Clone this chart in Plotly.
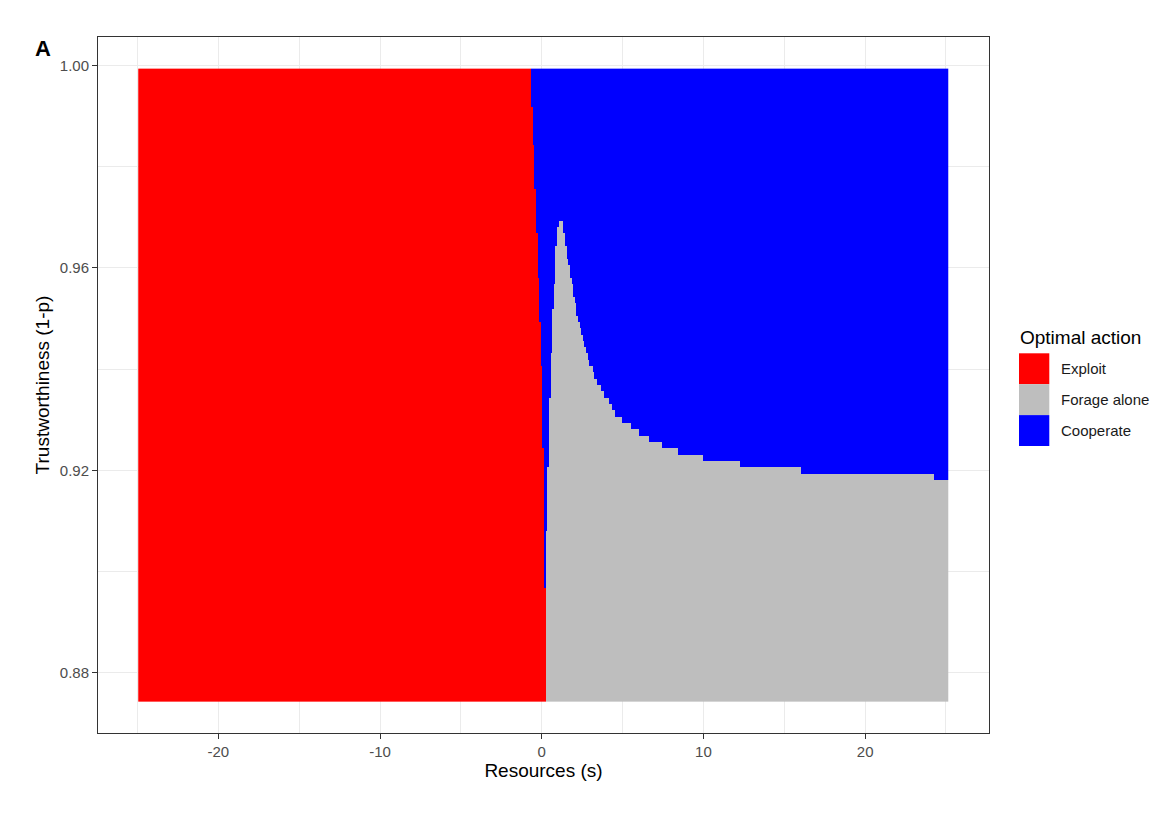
import numpy as np
import plotly.graph_objects as go

# model grid: resources s (columns) and trustworthiness 1-p (rows)
s_grid = np.round(np.arange(-249, 252) / 10, 1)             # -24.9 ... 25.1
trust_grid = np.round(0.875 + 0.00125 * np.arange(100), 5)   # 0.875 ... 0.99875
row_step = 0.00125

actions = ["Exploit", "Forage alone", "Cooperate"]
action_colors = ["#FF0000", "#BEBEBE", "#0000FF"]

# last s that is still "Exploit", for rows with trust >= value
exploit_from_trust = [0.875, 0.8975, 0.925, 0.94125, 0.95, 0.95875, 0.9675, 0.97625, 0.985, 0.9925]
exploit_edge_s = [0.2, 0.1, 0.0, -0.1, -0.2, -0.3, -0.4, -0.5, -0.6, -0.7]

# first s of "Forage alone", for rows with trust >= value (nothing above the peak)
forage_from_trust = [0.875, 0.90875, 0.92125, 0.935, 0.94375, 0.9525, 0.9575, 0.965, 0.96875]
forage_left_s = [0.3, 0.4, 0.5, 0.6, 0.7, 0.8, 0.9, 1.0, 1.1]
forage_peak_trust = 0.96875

# last s of "Forage alone", row by row from trust 0.91875 up to the peak;
# rows below that forage up to the end of the grid
forage_right_from_trust = 0.91875
forage_right_s = [24.2, 16.0, 12.2, 9.9, 8.4, 7.4, 6.6, 6.0, 5.5, 4.9,
                  4.5, 4.3, 4.1, 3.8, 3.6, 3.4, 3.2, 3.1, 2.9, 2.8,
                  2.7, 2.6, 2.5, 2.4, 2.3, 2.2, 2.1, 2.1, 2.0, 1.9,
                  1.9, 1.8, 1.7, 1.7, 1.6, 1.5, 1.5, 1.4, 1.4, 1.3, 1.3]

x_ticks = [-20, -10, 0, 10, 20]
x_tick_labels = ["-20", "-10", "0", "10", "20"]
y_ticks = [0.88, 0.92, 0.96, 1.00]
y_tick_labels = ["0.88", "0.92", "0.96", "1.00"]


def lookup(starts, values, t):
    idx = np.searchsorted(np.array(starts), t + 1e-9, side="right") - 1
    return values[idx]


# 0 = exploit, 1 = forage alone, 2 = cooperate
z = np.full((len(trust_grid), len(s_grid)), 2)
for i, t in enumerate(trust_grid):
    row = np.full(len(s_grid), 2)
    row[s_grid <= lookup(exploit_from_trust, exploit_edge_s, t) + 1e-9] = 0
    if t <= forage_peak_trust + 1e-9:
        left = lookup(forage_from_trust, forage_left_s, t)
        if t < forage_right_from_trust - 1e-9:
            right = s_grid[-1]
        else:
            right = forage_right_s[int(round((t - forage_right_from_trust) / row_step))]
        row[(s_grid >= left - 1e-9) & (s_grid <= right + 1e-9)] = 1
    z[i] = row

# page body adds an 8px margin, so the figure is shifted by that much
OFF = 8
W, H = 1170 - OFF, 816 - OFF
L, T = 98 - OFF, 37 - OFF
R, B = 1170 - 989, 816 - 733
pw, ph = W - L - R, H - T - B


def px(x):
    return (x - OFF - L) / pw


def py(y):
    return (H - B - (y - OFF)) / ph


font = "Liberation Sans, Arial, sans-serif"

cs = []
for k, c in enumerate(action_colors):
    cs += [[k / 3, c], [(k + 1) / 3, c]]

fig = go.Figure()
fig.add_trace(go.Heatmap(
    x=s_grid, y=trust_grid, z=z,
    zmin=-0.5, zmax=2.5, colorscale=cs,
    showscale=False, hoverinfo="skip",
))

axis_common = dict(
    showline=True, mirror=True, linecolor="#333333", linewidth=1,
    showgrid=True, gridcolor="#EBEBEB", gridwidth=1.1,
    zeroline=False,
    ticks="outside", ticklen=5, tickwidth=1, tickcolor="#333333",
    tickfont=dict(family=font, size=15, color="#4D4D4D"),
)

fig.update_layout(
    width=W, height=H,
    margin=dict(l=L, r=R, t=T, b=B),
    paper_bgcolor="white", plot_bgcolor="white",
    showlegend=False,
    xaxis=dict(
        range=[-27.44, 27.66],
        tickvals=x_ticks, ticktext=x_tick_labels,
        minor=dict(tickvals=[-25, -15, -5, 5, 15, 25], showgrid=True,
                   gridcolor="#EBEBEB", gridwidth=0.6, ticks=""),
        title=dict(text="Resources (s)", font=dict(family=font, size=19, color="black"), standoff=4),
        **axis_common,
    ),
    yaxis=dict(
        range=[0.868125, 1.005625],
        tickvals=y_ticks, ticktext=y_tick_labels,
        minor=dict(tickvals=[0.86, 0.90, 0.94, 0.98], showgrid=True,
                   gridcolor="#EBEBEB", gridwidth=0.6, ticks=""),
        title=dict(text="Trustworthiness (1-p)", font=dict(family=font, size=19, color="black"), standoff=5),
        **axis_common,
    ),
)

# legend drawn by hand, ggplot style
shapes = []
annotations = [
    dict(text="A", x=px(33), y=py(48.5), xref="paper", yref="paper",
         xanchor="left", yanchor="middle", showarrow=False,
         font=dict(family=font, size=22, color="black", weight="bold")),
    dict(text="Optimal action", x=px(1018), y=py(337), xref="paper", yref="paper",
         xanchor="left", yanchor="middle", showarrow=False,
         font=dict(family=font, size=19, color="black")),
]
key_top, key_h = 353.3, 30.9
for k, (name, c) in enumerate(zip(actions, action_colors)):
    y0 = key_top + k * key_h
    shapes.append(dict(type="rect", xref="paper", yref="paper",
                       x0=px(1019), x1=px(1049.3), y0=py(y0 + key_h), y1=py(y0),
                       fillcolor=c, line=dict(width=0), layer="above"))
    annotations.append(dict(text=name, x=px(1059), y=py(y0 + key_h / 2),
                            xref="paper", yref="paper", xanchor="left", yanchor="middle",
                            showarrow=False, font=dict(family=font, size=15, color="#1A1A1A")))

fig.update_layout(shapes=shapes, annotations=annotations)

fig.write_html("out.html")
